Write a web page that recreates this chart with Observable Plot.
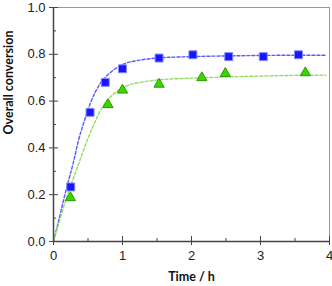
<!DOCTYPE html>
<html><head><meta charset="utf-8">
<script src="https://cdn.jsdelivr.net/npm/d3@7"></script>
<script src="https://cdn.jsdelivr.net/npm/@observablehq/plot@0.6"></script>
<style>body{margin:0;background:#fff}</style>
</head><body><div id="chart"></div>
<script>
const blueT = [0.25, 0.53, 0.75, 1.0, 1.53, 2.02, 2.54, 3.04, 3.55];
const blueY = [0.233, 0.552, 0.68, 0.738, 0.784, 0.798, 0.79, 0.79, 0.798];
const greenT = [0.245, 0.79, 1.0, 1.53, 2.15, 2.49, 3.65];
const greenY = [0.187, 0.585, 0.647, 0.672, 0.70, 0.718, 0.721];
const blueFitT = [0, 0.1, 0.19, 0.29, 0.36, 0.43, 0.54, 0.67, 0.82, 1.0, 1.25, 1.5, 2.0, 2.5, 3.0, 3.5, 3.95];
const blueFitY = [0, 0.12, 0.23, 0.34, 0.43, 0.50, 0.595, 0.672, 0.721, 0.756, 0.775, 0.784, 0.79, 0.793, 0.795, 0.796, 0.796];
const greenFitT = [0, 0.06, 0.145, 0.24, 0.36, 0.48, 0.6, 0.72, 0.87, 1.06, 1.3, 1.5, 2.0, 2.5, 3.0, 3.5, 3.95];
const greenFitY = [0, 0.06, 0.146, 0.23, 0.328, 0.426, 0.51, 0.581, 0.63, 0.665, 0.682, 0.69, 0.698, 0.703, 0.707, 0.71, 0.711];
const xTicks = [0, 1, 2, 3, 4];
const xMinor = [0.5, 1.5, 2.5, 3.5];
const yTicks = [0, 0.2, 0.4, 0.6, 0.8, 1.0];
const yMinor = [0.1, 0.3, 0.5, 0.7, 0.9];

const blue = blueT.map((t, i) => ({t, y: blueY[i]}));
const green = greenT.map((t, i) => ({t, y: greenY[i]}));
const blueFit = blueFitT.map((t, i) => ({t, y: blueFitY[i]}));
const greenFit = greenFitT.map((t, i) => ({t, y: greenFitY[i]}));

const W = 332, H = 286, ML = 53, MR = 3, MT = 7, MB = 45;
const PW = W - ML - MR, PH = H - MT - MB;
const axisColor = "#444";

const chart = Plot.plot({
  width: W, height: H,
  marginLeft: ML, marginRight: MR, marginTop: MT, marginBottom: MB,
  style: {fontFamily: "Liberation Sans, Arial, sans-serif", fontSize: "13px", color: "#222", background: "#fff"},
  x: {domain: [0, 4]},
  y: {domain: [0, 1]},
  marks: [
    Plot.frame({stroke: "#999", strokeWidth: 1}),
    Plot.line(blueFit, {x: "t", y: "y", curve: "monotone-x", stroke: "#5a5aff", strokeWidth: 1.4, strokeDasharray: "3,2"}),
    Plot.line(greenFit, {x: "t", y: "y", curve: "monotone-x", stroke: "#8fe060", strokeWidth: 1.4, strokeDasharray: "3,2"}),
    Plot.dot(blue, {x: "t", y: "y", symbol: "square", r: 4.5, fill: "#1616ff", stroke: "#8a8aff", strokeWidth: 1}),
    Plot.dot(green, {x: "t", y: "y", symbol: "triangle", r: 3.8, fill: "#3cd400", stroke: "#2b9c00", strokeWidth: 1}),
    Plot.ruleX([0], {stroke: axisColor, strokeWidth: 1.5}),
    Plot.ruleY([0], {stroke: axisColor, strokeWidth: 1.5}),
    Plot.axisY({ticks: yTicks, tickFormat: d3.format(".1f"), tickSize: 4, tickPadding: 4, stroke: axisColor, label: null, fontSize: 13}),
    Plot.tickY(yTicks, {y: d => d, insetRight: PW - 5, stroke: axisColor}),
    Plot.tickY(yMinor, {y: d => d, insetRight: PW - 3, stroke: axisColor}),
    Plot.axisX({ticks: xTicks, tickFormat: d3.format("d"), tickSize: 4, tickPadding: 5, stroke: axisColor, label: null, fontSize: 13}),
    Plot.tickX(xTicks, {x: d => d, insetTop: PH - 5, stroke: axisColor}),
    Plot.tickX(xMinor, {x: d => d, insetTop: PH - 3, stroke: axisColor}),
    Plot.text(["Time / h"], {frameAnchor: "bottom", dy: 39, text: d => d, fontWeight: "bold", fontSize: 12.5, fontFamily: "Lato, sans-serif", fill: "#111"}),
    Plot.text(["Overall conversion"], {frameAnchor: "left", dx: -45, dy: 10, rotate: -90, text: d => d, fontWeight: "bold", fontSize: 12.5, fontFamily: "Lato, sans-serif", fill: "#111"})
  ]
});
document.getElementById("chart").appendChild(chart);
</script>
</body></html>
